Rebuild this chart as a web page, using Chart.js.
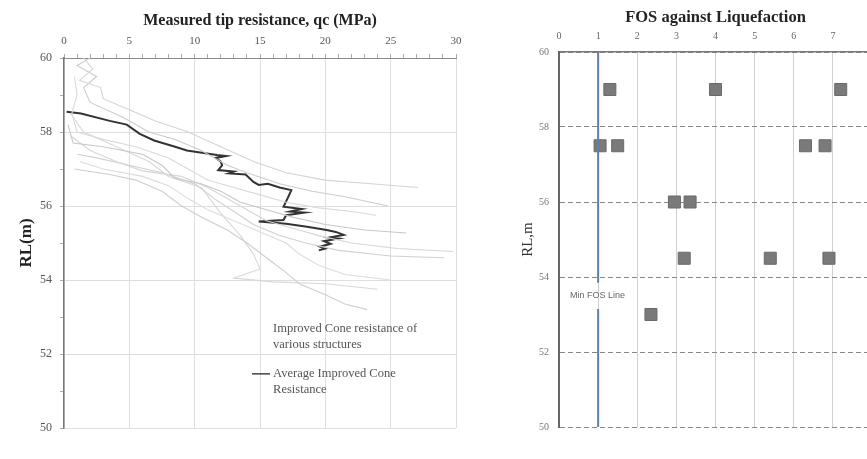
<!DOCTYPE html>
<html>
<head>
<meta charset="utf-8">
<script src="https://cdn.jsdelivr.net/npm/chart.js@4"></script>
<style>
  html, body { margin: 0; padding: 0; background: #fff; overflow: hidden; width: 867px; height: 459px; }
  #qcChart { position: absolute; left: 0; top: 0; }
  #fosChart { position: absolute; left: 505px; top: 0; }
</style>
</head>
<body>
<canvas id="qcChart" width="490" height="459"></canvas>
<canvas id="fosChart" width="400" height="459"></canvas>
<script>
// tick labels
const qcTicks = [0, 5, 10, 15, 20, 25, 30];
const rlTicks = [50, 52, 54, 56, 58, 60];
const fosTicks = [0, 1, 2, 3, 4, 5, 6, 7, 8];

// individual improved cone profiles [qc MPa, RL m]
const profile1 = [[1.5,60],[2.2,59.7],[1.2,59.4],[2.8,59.2],[3.0,58.9],[5.0,58.6],[7.0,58.3],[9.5,58.0],[12.0,57.6],[14.5,57.2],[17.0,56.9],[20.0,56.7],[23.5,56.6],[27.1,56.5]];
const profile2 = [[2.0,60],[1.0,59.8],[2.5,59.5],[1.5,59.2],[2.0,58.8],[4.5,58.4],[6.5,58.0],[8.5,57.8],[10.5,57.5],[12.5,57.1],[14.0,56.9],[16.5,56.6],[19.0,56.4],[21.5,56.25],[24.8,56.0]];
const profile3 = [[0.8,59.5],[1.0,59.0],[0.6,58.5],[1.0,58.0],[3.0,57.8],[5.5,57.6],[8.0,57.3],[9.5,57.0],[11.0,56.7],[13.0,56.5],[15.0,56.3],[17.0,56.1],[19.5,55.95],[22.0,55.85],[23.9,55.75]];
const profile4 = [[0.3,58.2],[0.7,57.7],[3.0,57.6],[6.0,57.4],[7.5,57.1],[8.5,56.75],[10.5,56.6],[12.0,56.4],[13.5,56.1],[15.5,55.9],[17.5,55.7],[20.0,55.5],[23.0,55.35],[26.2,55.27]];
const profile5 = [[0.5,57.9],[2.0,57.5],[4.0,57.2],[6.0,56.95],[9.0,56.8],[11.0,56.5],[12.5,56.2],[14.0,55.9],[15.5,55.6],[17.5,55.4],[19.5,55.2],[22.0,55.0],[25.5,54.85],[29.8,54.77]];
const profile6 = [[1.0,57.4],[2.5,57.3],[5.0,57.1],[7.5,56.9],[10.0,56.6],[11.5,56.2],[13.0,55.85],[14.5,55.5],[16.5,55.2],[18.5,55.0],[21.0,54.8],[25.0,54.65],[29.1,54.6]];
const profile7 = [[1.2,57.2],[3.0,57.0],[6.0,56.8],[8.0,56.55],[9.5,56.2],[11.0,55.9],[13.0,55.6],[15.0,55.3],[17.0,55.0],[18.0,54.7],[19.5,54.4],[21.5,54.15],[25.0,54.0]];
const profile8 = [[0.8,57.0],[3.5,56.85],[5.5,56.7],[7.5,56.4],[9.0,56.0],[10.5,55.7],[12.5,55.35],[14.0,55.0],[15.5,54.6],[17.0,54.2],[18.0,53.9],[20.0,53.6],[21.5,53.35],[23.2,53.2]];
const profile9 = [[0.5,58.5],[1.5,58.0],[4.0,57.6],[6.5,57.2],[8.0,56.8],[10.5,56.5],[12.0,55.8],[13.5,55.2],[14.5,54.7],[15.0,54.3],[13.0,54.05],[16.0,53.95],[20.0,53.9],[24.0,53.75]];

// average improved cone resistance
const averageProfile = [[0.2,58.55],[1.3,58.5],[3.5,58.3],[4.8,58.2],[5.8,57.95],[6.9,57.77],[8.5,57.6],[9.4,57.5],[11.7,57.38],[12.4,57.35],[11.6,57.3],[12.0,57.2],[12.1,57.1],[11.8,56.97],[13.0,56.93],[12.6,56.88],[13.9,56.85],[14.5,56.65],[14.9,56.57],[15.6,56.6],[16.5,56.5],[17.4,56.43],[17.1,56.2],[16.8,55.98],[18.2,55.92],[17.3,55.85],[18.4,55.82],[17.0,55.75],[16.8,55.62],[14.9,55.58],[17.0,55.52],[18.6,55.44],[20.1,55.35],[20.8,55.3],[21.4,55.22],[20.3,55.15],[21.0,55.12],[19.9,55.05],[20.4,54.98],[19.6,54.9],[20.0,54.85],[19.5,54.8]];

// FOS against liquefaction [FOS, RL m]
const fosPoints = [[1.3,59],[4.0,59],[7.2,59],[1.05,57.5],[1.5,57.5],[6.3,57.5],[6.8,57.5],[2.95,56],[3.35,56],[3.2,54.5],[5.4,54.5],[6.9,54.5],[2.35,53]];
const minFosLine = [[1,60],[1,53.85],[1,null],[1,53.15],[1,50]];

const serif = "'Liberation Serif', 'Times New Roman', serif";
const toXY = arr => arr.map(p => ({ x: p[0], y: p[1] }));

const profiles = [profile1, profile2, profile3, profile4, profile5, profile6, profile7, profile8, profile9];
const greys = ["#d4d4d4", "#cccccc", "#dadada", "#c8c8c8", "#d6d6d6", "#d0d0d0", "#dcdcdc", "#cecece", "#d8d8d8"];

const titlePlugin = {
  id: "topTitle",
  afterDraw(chart, args, opts) {
    const ctx = chart.ctx;
    const a = chart.chartArea;
    ctx.save();
    ctx.font = "bold " + opts.size + "px " + serif;
    ctx.fillStyle = "#222";
    ctx.textAlign = "center";
    ctx.textBaseline = "middle";
    ctx.fillText(opts.text, (a.left + a.right) / 2, opts.y);
    ctx.restore();
  }
};

const qcLegend = {
  id: "qcLegend",
  afterDraw(chart) {
    const ctx = chart.ctx;
    const x0 = chart.scales.x.getPixelForValue(16);
    const y0 = chart.scales.y.getPixelForValue(52.68);
    ctx.save();
    ctx.font = "12.5px " + serif;
    ctx.fillStyle = "#555";
    ctx.textBaseline = "middle";
    ctx.fillText("Improved Cone resistance of", x0, y0);
    ctx.fillText("various structures", x0, y0 + 16);
    ctx.fillText("Average Improved Cone", x0, y0 + 45);
    ctx.fillText("Resistance", x0, y0 + 61);
    ctx.strokeStyle = "#444";
    ctx.lineWidth = 1.5;
    ctx.beginPath();
    ctx.moveTo(x0 - 21, y0 + 45);
    ctx.lineTo(x0 - 3, y0 + 45);
    ctx.stroke();
    ctx.restore();
  }
};

const qcDatasets = profiles.map((p, i) => ({
  data: toXY(p),
  showLine: true,
  borderColor: greys[i],
  borderWidth: 1.1,
  pointRadius: 0,
  tension: 0
}));
qcDatasets.push({
  data: toXY(averageProfile),
  showLine: true,
  borderColor: "#333",
  borderWidth: 2,
  pointRadius: 0,
  tension: 0
});

new Chart(document.getElementById("qcChart"), {
  type: "scatter",
  data: { datasets: qcDatasets },
  options: {
    responsive: false,
    animation: false,
    layout: { padding: { left: 0, top: 0, right: 34, bottom: 31 } },
    plugins: {
      legend: { display: false },
      tooltip: { enabled: false },
      topTitle: { text: "Measured tip resistance, qc (MPa)", size: 16, y: 21 }
    },
    scales: {
      x: {
        type: "linear",
        position: "top",
        min: 0, max: 30,
        afterFit: s => { s.height = 58; },
        ticks: {
          stepSize: 1,
          autoSkip: false,
          maxRotation: 0,
          padding: 6,
          color: "#555",
          font: { family: serif, size: 11 },
          callback: v => qcTicks.includes(v) ? v : ""
        },
        grid: {
          color: c => qcTicks.includes(c.tick.value) ? "#dedede" : "rgba(0,0,0,0)",
          tickColor: "#aaa",
          tickLength: 4
        },
        border: { color: "#8a8a8a", width: 1 }
      },
      y: {
        type: "linear",
        min: 50, max: 60,
        afterFit: s => { s.width = 64; },
        title: {
          display: true,
          text: "RL(m)",
          color: "#222",
          font: { family: serif, size: 17, weight: "bold" },
          padding: { top: 16, bottom: 0 }
        },
        ticks: {
          stepSize: 1,
          autoSkip: false,
          padding: 8,
          color: "#555",
          font: { family: serif, size: 12 },
          callback: v => rlTicks.includes(v) ? v : ""
        },
        grid: {
          color: c => rlTicks.includes(c.tick.value) ? "#dedede" : "rgba(0,0,0,0)",
          tickColor: "#aaa",
          tickLength: 4
        },
        border: { color: "#777", width: 1.5 }
      }
    }
  },
  plugins: [titlePlugin, qcLegend]
});

const fosLabel = {
  id: "fosLabel",
  afterDatasetsDraw(chart) {
    const ctx = chart.ctx;
    const x0 = chart.scales.x.getPixelForValue(0.28);
    const y0 = chart.scales.y.getPixelForValue(53.5);
    ctx.save();
    ctx.font = "9px 'Liberation Sans', Arial, sans-serif";
    ctx.fillStyle = "#666";
    ctx.textBaseline = "middle";
    ctx.fillText("Min FOS Line", x0, y0);
    ctx.restore();
  }
};

new Chart(document.getElementById("fosChart"), {
  type: "scatter",
  data: {
    datasets: [
      {
        data: toXY(minFosLine),
        showLine: true,
        spanGaps: false,
        borderColor: "#5b80b0",
        borderWidth: 2,
        pointRadius: 0
      },
      {
        data: toXY(fosPoints),
        pointStyle: "rect",
        pointRadius: 8.5,
        backgroundColor: "#7a7a7a",
        borderColor: "#6a6a6a",
        borderWidth: 1
      }
    ]
  },
  options: {
    responsive: false,
    animation: false,
    layout: { padding: { left: 0, top: 0, right: 33, bottom: 32 } },
    plugins: {
      legend: { display: false },
      tooltip: { enabled: false },
      topTitle: { text: "FOS against Liquefaction", size: 16.5, y: 18 }
    },
    scales: {
      x: {
        type: "linear",
        position: "top",
        min: 0, max: 8,
        afterFit: s => { s.height = 52; },
        ticks: {
          stepSize: 1,
          autoSkip: false,
          maxRotation: 0,
          padding: 10,
          color: "#666",
          font: { family: serif, size: 10 },
          callback: v => fosTicks.includes(v) ? v : ""
        },
        grid: { color: "#d0d0d0", lineWidth: 1, drawTicks: false },
        border: { color: "#777", width: 1.5 }
      },
      y: {
        type: "linear",
        min: 50, max: 60,
        afterFit: s => { s.width = 54; },
        title: {
          display: true,
          text: "RL,m",
          color: "#333",
          font: { family: serif, size: 15 },
          padding: { top: 14, bottom: 0 }
        },
        ticks: {
          stepSize: 2,
          padding: 10,
          color: "#777",
          font: { family: serif, size: 10 },
          callback: v => rlTicks.includes(v) ? v : ""
        },
        grid: { color: "#888", lineWidth: 1, drawTicks: false },
        border: { color: "#666", width: 2, dash: [5, 3] }
      }
    }
  },
  plugins: [titlePlugin, fosLabel]
});
</script>
</body>
</html>
